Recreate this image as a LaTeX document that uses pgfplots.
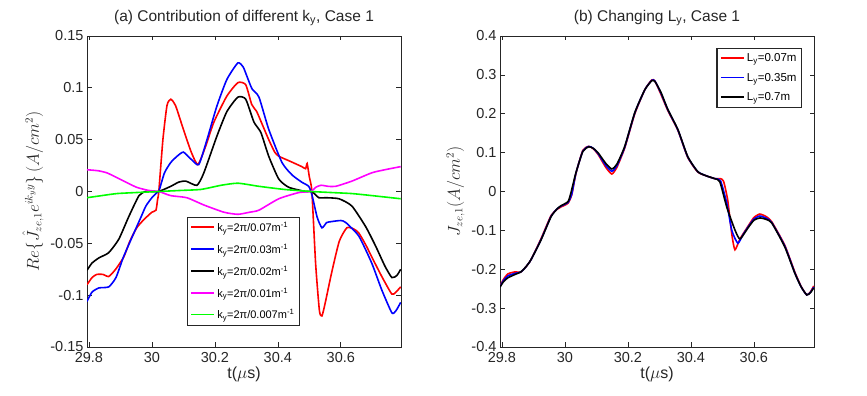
\documentclass[border=0pt]{standalone}
\usepackage{fontspec}
\setmainfont{Liberation Sans}
\usepackage{pgfplots}
\pgfplotsset{compat=1.18}
\definecolor{axgray}{RGB}{38,38,38}
\definecolor{mred}{RGB}{255,0,0}
\definecolor{mblue}{RGB}{0,0,255}
\definecolor{mmag}{RGB}{255,0,255}
\definecolor{mgreen}{RGB}{0,255,0}

\pgfplotsset{
  matfig/.style={
    scale only axis, width=314pt, height=311pt,
    xmin=29.794, xmax=30.791,
    xtick={29.8,30,30.2,30.4,30.6},
    scaled x ticks=false, scaled y ticks=false,
    xticklabel style={/pgf/number format/fixed,/pgf/number format/precision=1, yshift=-2pt},
    /pgf/number format/assume math mode=true,
    axis line style={draw=axgray, line width=0.9pt},
    tick style={draw=axgray, line width=0.7pt},
    major tick length=4.5pt,
    tick align=inside,
    xtick pos=both, ytick pos=both,
    xticklabel pos=lower, yticklabel pos=left,
    ticklabel style={font=\fontsize{14.5}{16}\selectfont, text=axgray},
    label style={font=\fontsize{16}{18}\selectfont, text=axgray},
    xlabel style={yshift=3pt},
    title style={font=\fontsize{15.5}{18}\selectfont, text=axgray, yshift=1pt},
    xlabel={t($\mu$s)},
    legend cell align=left,
    legend image code/.code={\draw[##1, line width=1.9pt] (0pt,0.5pt) -- (23pt,0.5pt);},
    every axis plot/.append style={line width=1.6pt, smooth, tension=0.35},
  }
}

\begin{document}
\begin{tikzpicture}
\begin{axis}[matfig,
  at={(87pt,49pt)}, anchor=south west,
  ymin=-0.15, ymax=0.15,
  ytick={-0.15,-0.1,-0.05,0,0.05,0.1,0.15},
  yticklabel style={/pgf/number format/fixed,/pgf/number format/precision=2},
  title={(a) Contribution of different k\textsubscript{y}, Case 1},
  ylabel={$Re\Big\{\hat{J}_{ze,1}e^{ik_yy}\Big\}\,(A/cm^2)$},
  legend style={at={(0.318,0.418)}, anchor=north west, draw=axgray, line width=1.1pt,
    font=\fontsize{11}{13}\selectfont, row sep=7pt, inner sep=3pt},
]
% k_y = 2pi/0.07
\addplot[mred] coordinates {
(29.794,-0.090) (29.810,-0.083) (29.825,-0.080) (29.845,-0.080) (29.863,-0.082)
(29.885,-0.075) (29.911,-0.063) (29.930,-0.048) (29.952,-0.035) (29.975,-0.027)
(30.000,-0.020) (30.013,-0.018) (30.018,-0.008) (30.022,0.000) (30.035,0.050)
(30.048,0.083) (30.060,0.089) (30.075,0.083) (30.100,0.060) (30.125,0.038)
(30.146,0.026) (30.170,0.043) (30.197,0.067) (30.238,0.092) (30.273,0.105)
(30.298,0.103) (30.317,0.084) (30.333,0.077) (30.350,0.065) (30.371,0.050)
(30.390,0.038) (30.403,0.034) (30.440,0.029) (30.476,0.024) (30.488,0.022)
(30.493,0.027) (30.500,0.014) (30.508,0.000) (30.520,-0.070) (30.532,-0.115)
(30.540,-0.120) (30.550,-0.108) (30.571,-0.078) (30.595,-0.048) (30.619,-0.035)
(30.640,-0.036) (30.657,-0.040) (30.680,-0.052) (30.698,-0.063) (30.730,-0.082)
(30.762,-0.099) (30.775,-0.097) (30.790,-0.092)
};
\addlegendentry{k\textsubscript{y}=2π/0.07m\textsuperscript{-1}}
% k_y = 2pi/0.03
\addplot[mblue] coordinates {
(29.794,-0.106) (29.810,-0.097) (29.832,-0.093) (29.863,-0.092) (29.886,-0.083)
(29.910,-0.063) (29.943,-0.040) (29.965,-0.025) (29.981,-0.014) (30.000,-0.006)
(30.016,-0.001) (30.022,0.000) (30.040,0.018) (30.060,0.028) (30.080,0.034)
(30.100,0.038) (30.125,0.031) (30.149,0.026) (30.175,0.050) (30.206,0.082)
(30.238,0.108) (30.273,0.124) (30.290,0.120) (30.302,0.111) (30.318,0.099)
(30.340,0.091) (30.371,0.060) (30.413,0.028) (30.445,0.016) (30.476,0.009)
(30.498,0.005) (30.508,-0.003) (30.525,-0.025) (30.540,-0.035) (30.555,-0.030)
(30.571,-0.029) (30.600,-0.028) (30.616,-0.030) (30.657,-0.043) (30.698,-0.069)
(30.730,-0.095) (30.762,-0.117) (30.775,-0.115) (30.790,-0.107)
};
\addlegendentry{k\textsubscript{y}=2π/0.03m\textsuperscript{-1}}
% k_y = 2pi/0.02
\addplot[black] coordinates {
(29.794,-0.076) (29.810,-0.069) (29.832,-0.064) (29.863,-0.059) (29.895,-0.046)
(29.927,-0.024) (29.959,-0.004) (29.980,0.000) (30.000,0.000) (30.022,0.000)
(30.060,0.005) (30.085,0.009) (30.108,0.010) (30.143,0.006) (30.165,0.018)
(30.206,0.053) (30.238,0.077) (30.273,0.091) (30.298,0.089) (30.324,0.067)
(30.346,0.057) (30.371,0.034) (30.403,0.012) (30.435,0.004) (30.488,0.000)
(30.508,0.000) (30.530,-0.006) (30.552,-0.006) (30.594,-0.007) (30.635,-0.014)
(30.679,-0.034) (30.711,-0.053) (30.740,-0.072) (30.762,-0.083) (30.778,-0.081)
(30.790,-0.075)
};
\addlegendentry{k\textsubscript{y}=2π/0.02m\textsuperscript{-1}}
% k_y = 2pi/0.01
\addplot[mmag] coordinates {
(29.794,0.021) (29.830,0.020) (29.857,0.018) (29.885,0.014) (29.911,0.010)
(29.952,0.004) (29.990,0.001) (30.022,0.000) (30.060,-0.004) (30.111,-0.006)
(30.165,-0.013) (30.229,-0.020) (30.273,-0.022) (30.310,-0.020) (30.340,-0.018)
(30.403,-0.007) (30.467,-0.001) (30.505,0.000) (30.520,0.004) (30.537,0.006)
(30.560,0.005) (30.584,0.005) (30.635,0.010) (30.698,0.018) (30.740,0.021)
(30.790,0.024)
};
\addlegendentry{k\textsubscript{y}=2π/0.01m\textsuperscript{-1}}
% k_y = 2pi/0.007
\addplot[mgreen] coordinates {
(29.794,-0.006) (29.840,-0.004) (29.889,-0.002) (29.950,-0.001) (30.022,0.000)
(30.090,0.001) (30.156,0.002) (30.220,0.006) (30.273,0.008) (30.340,0.005)
(30.420,0.002) (30.505,0.000) (30.570,-0.001) (30.635,-0.002) (30.700,-0.004)
(30.790,-0.007)
};
\addlegendentry{k\textsubscript{y}=2π/0.007m\textsuperscript{-1}}
\end{axis}

\begin{axis}[matfig,
  at={(500pt,49pt)}, anchor=south west,
  ymin=-0.4, ymax=0.4,
  ytick={-0.4,-0.3,-0.2,-0.1,0,0.1,0.2,0.3,0.4},
  yticklabel style={/pgf/number format/fixed,/pgf/number format/precision=1},
  title={(b) Changing L\textsubscript{y}, Case 1},
  ylabel={$J_{ze,1}(A/cm^2)$},
  legend style={at={(0.962,0.961)}, anchor=north east, draw=axgray, line width=1.1pt,
    font=\fontsize{11.5}{13}\selectfont, row sep=6pt, inner sep=3pt},
]
% L_y = 0.07 m
\addplot[mred] coordinates {
(29.794,-0.244) (29.805,-0.226) (29.819,-0.212) (29.840,-0.207) (29.860,-0.207)
(29.875,-0.195) (29.892,-0.176) (29.924,-0.122) (29.956,-0.062) (29.975,-0.046)
(29.987,-0.040) (30.010,-0.030) (30.022,-0.008) (30.035,0.046) (30.057,0.106)
(30.076,0.116) (30.090,0.110) (30.105,0.096) (30.130,0.062) (30.149,0.045)
(30.165,0.062) (30.190,0.112) (30.222,0.200) (30.254,0.262) (30.276,0.287)
(30.286,0.284) (30.305,0.250) (30.327,0.208) (30.359,0.157) (30.390,0.088)
(30.422,0.050) (30.450,0.040) (30.476,0.033) (30.494,0.033) (30.504,0.026)
(30.517,-0.022) (30.530,-0.110) (30.540,-0.150) (30.556,-0.122) (30.581,-0.090)
(30.600,-0.067) (30.619,-0.058) (30.640,-0.065) (30.657,-0.078) (30.698,-0.138)
(30.730,-0.207) (30.750,-0.244) (30.768,-0.266) (30.780,-0.258) (30.790,-0.243)
};
\addlegendentry{L\textsubscript{y}=0.07m}
% L_y = 0.35 m
\addplot[mblue] coordinates {
(29.794,-0.245) (29.805,-0.229) (29.819,-0.217) (29.840,-0.211) (29.860,-0.207)
(29.875,-0.195) (29.892,-0.176) (29.924,-0.124) (29.956,-0.064) (29.975,-0.045)
(29.987,-0.038) (30.010,-0.028) (30.022,-0.006) (30.035,0.047) (30.057,0.104)
(30.076,0.116) (30.090,0.111) (30.105,0.098) (30.130,0.067) (30.149,0.052)
(30.165,0.066) (30.190,0.114) (30.222,0.202) (30.254,0.262) (30.276,0.286)
(30.286,0.284) (30.305,0.253) (30.327,0.210) (30.359,0.158) (30.390,0.089)
(30.422,0.051) (30.450,0.040) (30.476,0.033) (30.494,0.028) (30.514,-0.030)
(30.530,-0.100) (30.549,-0.133) (30.565,-0.112) (30.581,-0.092) (30.600,-0.071)
(30.619,-0.063) (30.640,-0.069) (30.657,-0.080) (30.698,-0.140) (30.730,-0.209)
(30.750,-0.245) (30.768,-0.266) (30.780,-0.259) (30.790,-0.246)
};
\addlegendentry{L\textsubscript{y}=0.35m}
% L_y = 0.7 m
\addplot[black] coordinates {
(29.794,-0.246) (29.805,-0.232) (29.819,-0.222) (29.840,-0.214) (29.860,-0.207)
(29.875,-0.195) (29.892,-0.176) (29.924,-0.125) (29.956,-0.065) (29.975,-0.045)
(29.987,-0.037) (30.010,-0.026) (30.019,-0.004) (30.035,0.048) (30.057,0.103)
(30.076,0.115) (30.090,0.111) (30.105,0.100) (30.130,0.072) (30.149,0.058)
(30.165,0.070) (30.190,0.116) (30.222,0.203) (30.254,0.262) (30.276,0.285)
(30.286,0.283) (30.305,0.255) (30.327,0.211) (30.359,0.159) (30.390,0.090)
(30.422,0.051) (30.450,0.040) (30.476,0.033) (30.492,0.025) (30.514,-0.040)
(30.540,-0.099) (30.556,-0.122) (30.581,-0.094) (30.600,-0.074) (30.619,-0.068)
(30.640,-0.072) (30.657,-0.081) (30.698,-0.142) (30.730,-0.210) (30.750,-0.245)
(30.768,-0.266) (30.780,-0.260) (30.790,-0.248)
};
\addlegendentry{L\textsubscript{y}=0.7m}
\end{axis}
\pgfresetboundingbox
\useasboundingbox (0pt,0pt) rectangle (867pt,396pt);
\end{tikzpicture}
\end{document}
